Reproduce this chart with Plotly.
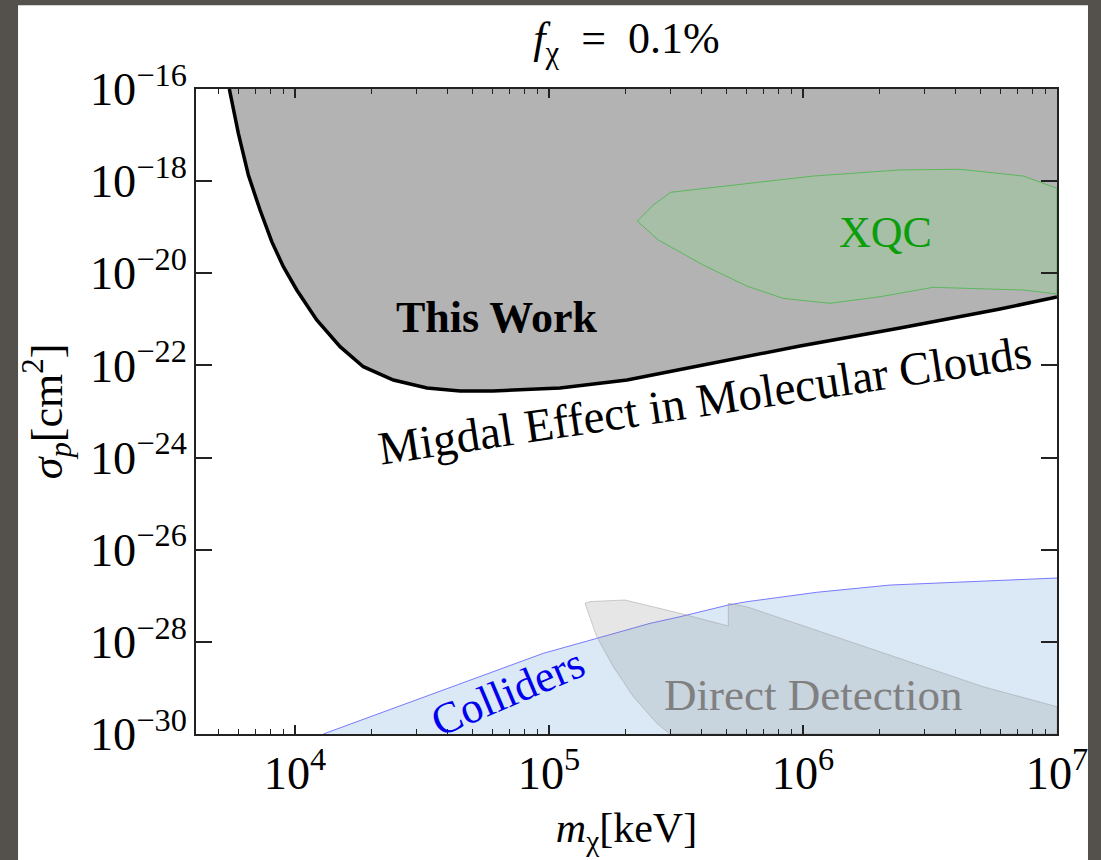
import plotly.graph_objects as go

# ---------------- data ----------------
# "This Work" exclusion boundary (Migdal effect in molecular clouds)
tw_mass = [5511, 5981, 6548, 7280, 8096, 8994, 10155, 12170, 15040, 18570, 24380,
           33090, 44620, 60190, 110500, 202800, 368900, 973200, 2.409e6, 5.965e6, 1e7]
tw_sigma = [1.0e-16, 1.09e-17, 1.36e-18, 2.36e-19, 4.85e-20, 1.39e-20, 4.34e-21, 9.68e-22,
            2.55e-22, 9.38e-23, 4.83e-23, 3.24e-23, 2.79e-23, 2.79e-23, 3.24e-23, 4.83e-23,
            9.25e-23, 2.64e-22, 6.49e-22, 1.68e-21, 3.05e-21]

# XQC region (closed contour)
xqc_mass = [222700, 257400, 301400, 600200, 1.098e6, 2.409e6, 4.151e6, 7.37e6, 1e7,
            1e7, 7.35e6, 3.25e6, 2.01e6, 1.277e6, 834000, 600200, 405000, 269400, 222700]
xqc_sigma = [1.36e-19, 3.03e-19, 5.73e-19, 8.98e-19, 1.29e-18, 1.75e-18, 1.81e-18, 1.29e-18, 7.0e-19,
             3.55e-21, 4.34e-21, 4.96e-21, 3.10e-21, 2.23e-21, 2.86e-21, 5.30e-21, 1.51e-20, 5.27e-20, 1.36e-19]

# Collider bound (upper edge)
col_mass = [12920, 39560, 94970, 154100, 249800, 327900, 508000, 600200, 1.132e6, 2.20e6, 5.13e6, 1e7]
col_sigma = [1e-30, 9.8e-30, 5.64e-29, 1.19e-28, 2.52e-28, 3.51e-28, 6.31e-28, 7.43e-28,
             1.19e-27, 1.71e-27, 2.09e-27, 2.43e-27]

# Direct detection region (closed contour)
dd_mass = [138600, 145000, 199200, 249800, 327900, 508000, 508000, 600200, 2.07e6, 5.13e6, 1e7,
           1e7, 299500, 265500, 214800, 179100, 154100, 138600]
dd_sigma = [6.86e-28, 7.51e-28, 8.09e-28, 6.0e-28, 4.16e-28, 2.21e-28, 6.86e-28, 5.79e-28, 5.64e-29,
            1.06e-29, 3.91e-30, 1e-30, 1e-30, 1.71e-30, 6.44e-30, 2.89e-29, 1.29e-28, 6.86e-28]

x_range_log = [3.61, 7.0]
y_range_log = [-30, -16]
sigma_floor = 1e-30
sigma_ceiling = 1e-16

SERIF = "Liberation Serif"

fig = go.Figure()

# gray excluded region above the curve
fig.add_trace(go.Scatter(
    x=tw_mass + [tw_mass[-1], tw_mass[0]], y=tw_sigma + [sigma_ceiling, sigma_ceiling],
    mode="lines", line=dict(width=0), fill="toself", fillcolor="#b3b3b3",
    hoverinfo="skip", showlegend=False))

fig.add_trace(go.Scatter(
    x=xqc_mass, y=xqc_sigma, mode="lines",
    line=dict(color="#5cb85c", width=1), fill="toself",
    fillcolor="rgba(120,240,120,0.2)", showlegend=False))

# colliders: fill down to the floor, then outline only the upper edge
fig.add_trace(go.Scatter(
    x=col_mass + [col_mass[-1], col_mass[0]], y=col_sigma + [sigma_floor, sigma_floor],
    mode="lines", line=dict(width=0), fill="toself",
    fillcolor="#dae9f5", showlegend=False, hoverinfo="skip"))
fig.add_trace(go.Scatter(
    x=col_mass, y=col_sigma, mode="lines",
    line=dict(color="rgba(100,100,255,0.85)", width=1), showlegend=False))

fig.add_trace(go.Scatter(
    x=dd_mass, y=dd_sigma, mode="lines",
    line=dict(color="rgba(150,150,150,0.45)", width=1), fill="toself",
    fillcolor="rgba(128,128,128,0.2)", showlegend=False))

fig.add_trace(go.Scatter(
    x=tw_mass, y=tw_sigma, mode="lines",
    line=dict(color="black", width=3.5), showlegend=False))

# ---------------- layout ----------------
fig.update_layout(
    width=1101, height=860,
    margin=dict(l=196, r=44, t=89, b=126),
    paper_bgcolor="#54504c", plot_bgcolor="white",
    font=dict(family=SERIF, color="black", size=37),
    title=dict(text="<i>f</i><sub>χ</sub>  =  0.1%", x=0.5, xref="paper",
               y=1 - 38 / 860, yref="container", yanchor="middle", xanchor="center",
               font=dict(family=SERIF, size=44, color="black")),
    shapes=[dict(type="rect", xref="paper", yref="paper", x0=-0.2067, x1=1.036,
                 y0=-0.25, y1=1.130, fillcolor="white", line=dict(width=0), layer="below")],
)

fig.update_xaxes(
    type="log", range=x_range_log, dtick=1, exponentformat="power",
    showline=True, linecolor="#222", linewidth=1.5, mirror="ticks",
    ticks="inside", ticklen=9, tickwidth=1.5, tickcolor="#222",
    minor=dict(ticks="inside", ticklen=5, tickwidth=1.2, tickcolor="#222", dtick="D1", showgrid=False),
    showgrid=False, zeroline=False,
    tickfont=dict(family=SERIF, size=37, color="black"),
    title=dict(text="<i>m</i><sub>χ</sub>[keV]", font=dict(family=SERIF, size=42, color="black"), standoff=14),
)
fig.update_yaxes(
    type="log", range=y_range_log, dtick=2, exponentformat="power",
    showline=True, linecolor="#222", linewidth=1.5, mirror="ticks",
    ticks="inside", ticklen=16, tickwidth=1.5, tickcolor="#222",
    showgrid=False, zeroline=False,
    tickfont=dict(family=SERIF, size=37, color="black"),
    title=dict(text="<i>σ</i><sub><i>p</i></sub>[cm<sup>2</sup>]", font=dict(family=SERIF, size=44, color="black"), standoff=14),
)

ann = [
    dict(text="<b>This Work</b>", x=4.795, y=-20.97, size=44, color="black", angle=0),
    dict(text="Migdal Effect in Molecular Clouds", x=5.615, y=-22.75, size=47, color="black", angle=-8.5),
    dict(text="XQC", x=6.323, y=-19.104, size=44, color="#0a9e0a", angle=0),
    dict(text="Colliders", x=4.835, y=-29.089, size=44, color="#0000ee", angle=-23),
    dict(text="Direct Detection", x=6.043, y=-29.154, size=45, color="#808080", angle=0),
]
for a in ann:
    fig.add_annotation(text=a["text"], x=a["x"], y=a["y"], xref="x", yref="y",
                       showarrow=False, textangle=a["angle"],
                       font=dict(family=SERIF, size=a["size"], color=a["color"]))

fig.write_html("out.html", config={"displayModeBar": False},
               post_script="document.body.style.margin='0';document.body.style.overflow='hidden';")
